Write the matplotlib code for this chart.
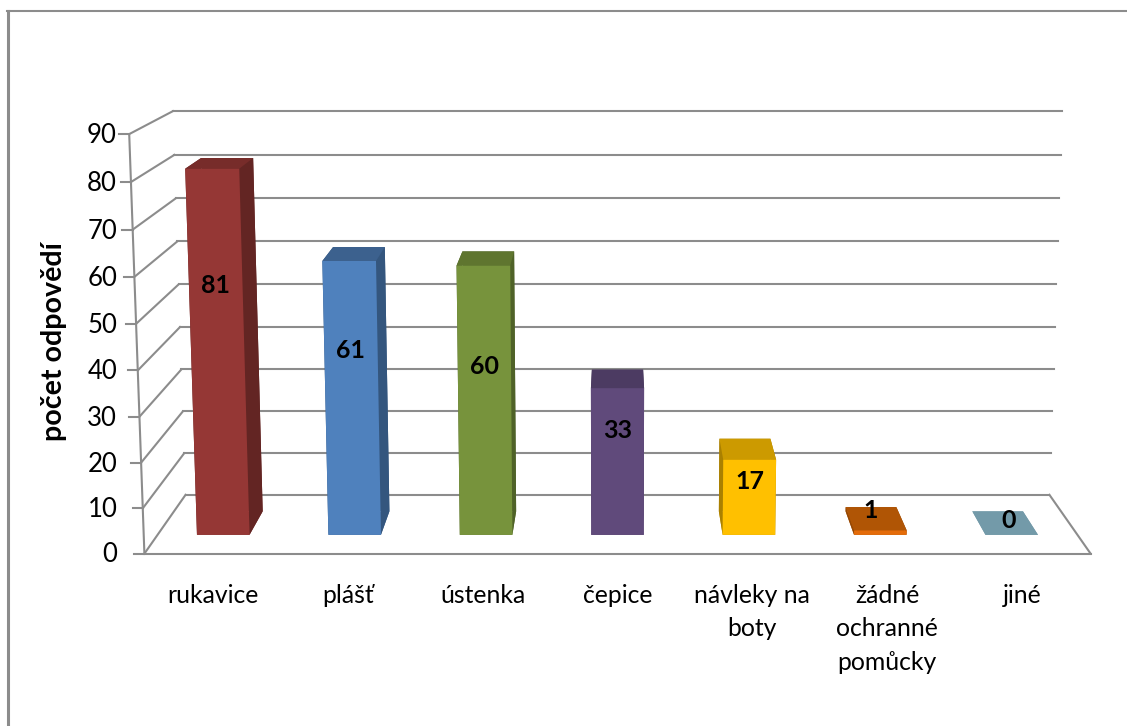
import matplotlib
matplotlib.use("Agg")
import matplotlib.pyplot as plt
from matplotlib.lines import Line2D
from mpl_toolkits.mplot3d import proj3d

plt.rcParams['font.family'] = ['Lato', 'DejaVu Sans']

categories = ["rukavice", "plášť", "ústenka", "čepice", "návleky na\nboty", "žádné\nochranné\npomůcky", "jiné"]
values = [81, 61, 60, 33, 17, 1, 0]
y_ticks = [0, 10, 20, 30, 40, 50, 60, 70, 80, 90]

front_colors = ["#953735", "#4f81bd", "#77933c", "#604a7b", "#ffc000", "#e46c0a", "#739aa9"]
top_colors = ["#772c2a", "#3c618e", "#5f752f", "#4c3b62", "#cc9a00", "#b05505", "#739aa9"]
side_colors = ["#632523", "#34567e", "#4f6228", "#403152", "#aa8000", "#954804", "#739aa9"]

# where the data labels sit: height on the bar and depth in the chart
label_z = [55.7, 41.4, 37.9, 23.6, 12.1, 0.1, 2.0]
label_depth = [0.3, 0.3, 0.3, 0.3, 0.3, 0.7, 0.4]

GRID = "#8c8c8c"
W, H = 1127, 726

fig = plt.figure(figsize=(W / 100, H / 100), dpi=100)

# camera fitted to the perspective of the original
side = 999
ax = fig.add_axes([104.5 / W, -112.5 / H, side / W, side / H], projection="3d", computed_zorder=False)
ax.set_box_aspect((2, 0.5, 0.8888))
ax.view_init(elev=10.4, azim=-90)
ax.set_proj_type("persp", focal_length=0.4521)
ax.set_axis_off()
ax.patch.set_alpha(0)

n = len(categories)

# back wall and left wall gridlines
for v in y_ticks:
    ax.plot([0, n], [1, 1], [v, v], color=GRID, lw=1.5, zorder=1)
    ax.plot([0, 0], [0, 1], [v, v], color=GRID, lw=1.5, zorder=1)
    ax.plot([-0.074, 0], [0, 0], [v, v], color=GRID, lw=1.5, zorder=1)

# axis and floor
ax.plot([0, 0], [0, 0], [0, 90], color=GRID, lw=1.5, zorder=1)
ax.plot([0, n], [0, 0], [0, 0], color=GRID, lw=1.5, zorder=1)
ax.plot([n, n], [0, 1], [0, 0], color=GRID, lw=1.5, zorder=1)

for i, v in enumerate(values):
    # faces: bottom, top, front, back, left, right
    colors = [top_colors[i], top_colors[i], front_colors[i], side_colors[i], side_colors[i], side_colors[i]]
    ax.bar3d(i + 0.3, 0.3, 0, 0.4, 0.4, v, color=colors, shade=False, zorder=2 + i * 0.01)

ax.set_xlim(0, n)
ax.set_ylim(0, 1)
ax.set_zlim(0, 90)


def put_text(x, y, z, s, **kw):
    # text goes on the 2d plane of the axes, at the projected point
    px, py, _ = proj3d.proj_transform(x, y, z, ax.get_proj())
    ax.text2D(px, py, s, transform=ax.transData, color="black", zorder=5, **kw)


for v in y_ticks:
    # labels stay on one vertical, the axis leans
    put_text(-(12 + 15 * (1 - v / 90)) / 135, 0, v - 0.3, str(v), ha="right", va="center", fontsize=18.5)

for i, v in enumerate(values):
    put_text(i + 0.5, label_depth[i], label_z[i], str(v), ha="center", va="center",
             fontsize=18, fontweight="bold")
    put_text(i + 0.5, 0, -6.7, categories[i], ha="center", va="top", fontsize=17.8, linespacing=1.55)

fig.text(54 / W, 1 - 342 / H, "počet odpovědí", rotation=90, ha="center", va="center",
         fontsize=20.6, fontweight="bold", color="black")

# outer frame of the chart
fig.add_artist(Line2D([7.5 / W, 7.5 / W], [0, 1 - 11 / H], color="#8c8c8c", lw=2.2))
fig.add_artist(Line2D([7 / W, 1], [1 - 11 / H, 1 - 11 / H], color="#8c8c8c", lw=1.5))

fig.savefig("out.png", dpi=100)
